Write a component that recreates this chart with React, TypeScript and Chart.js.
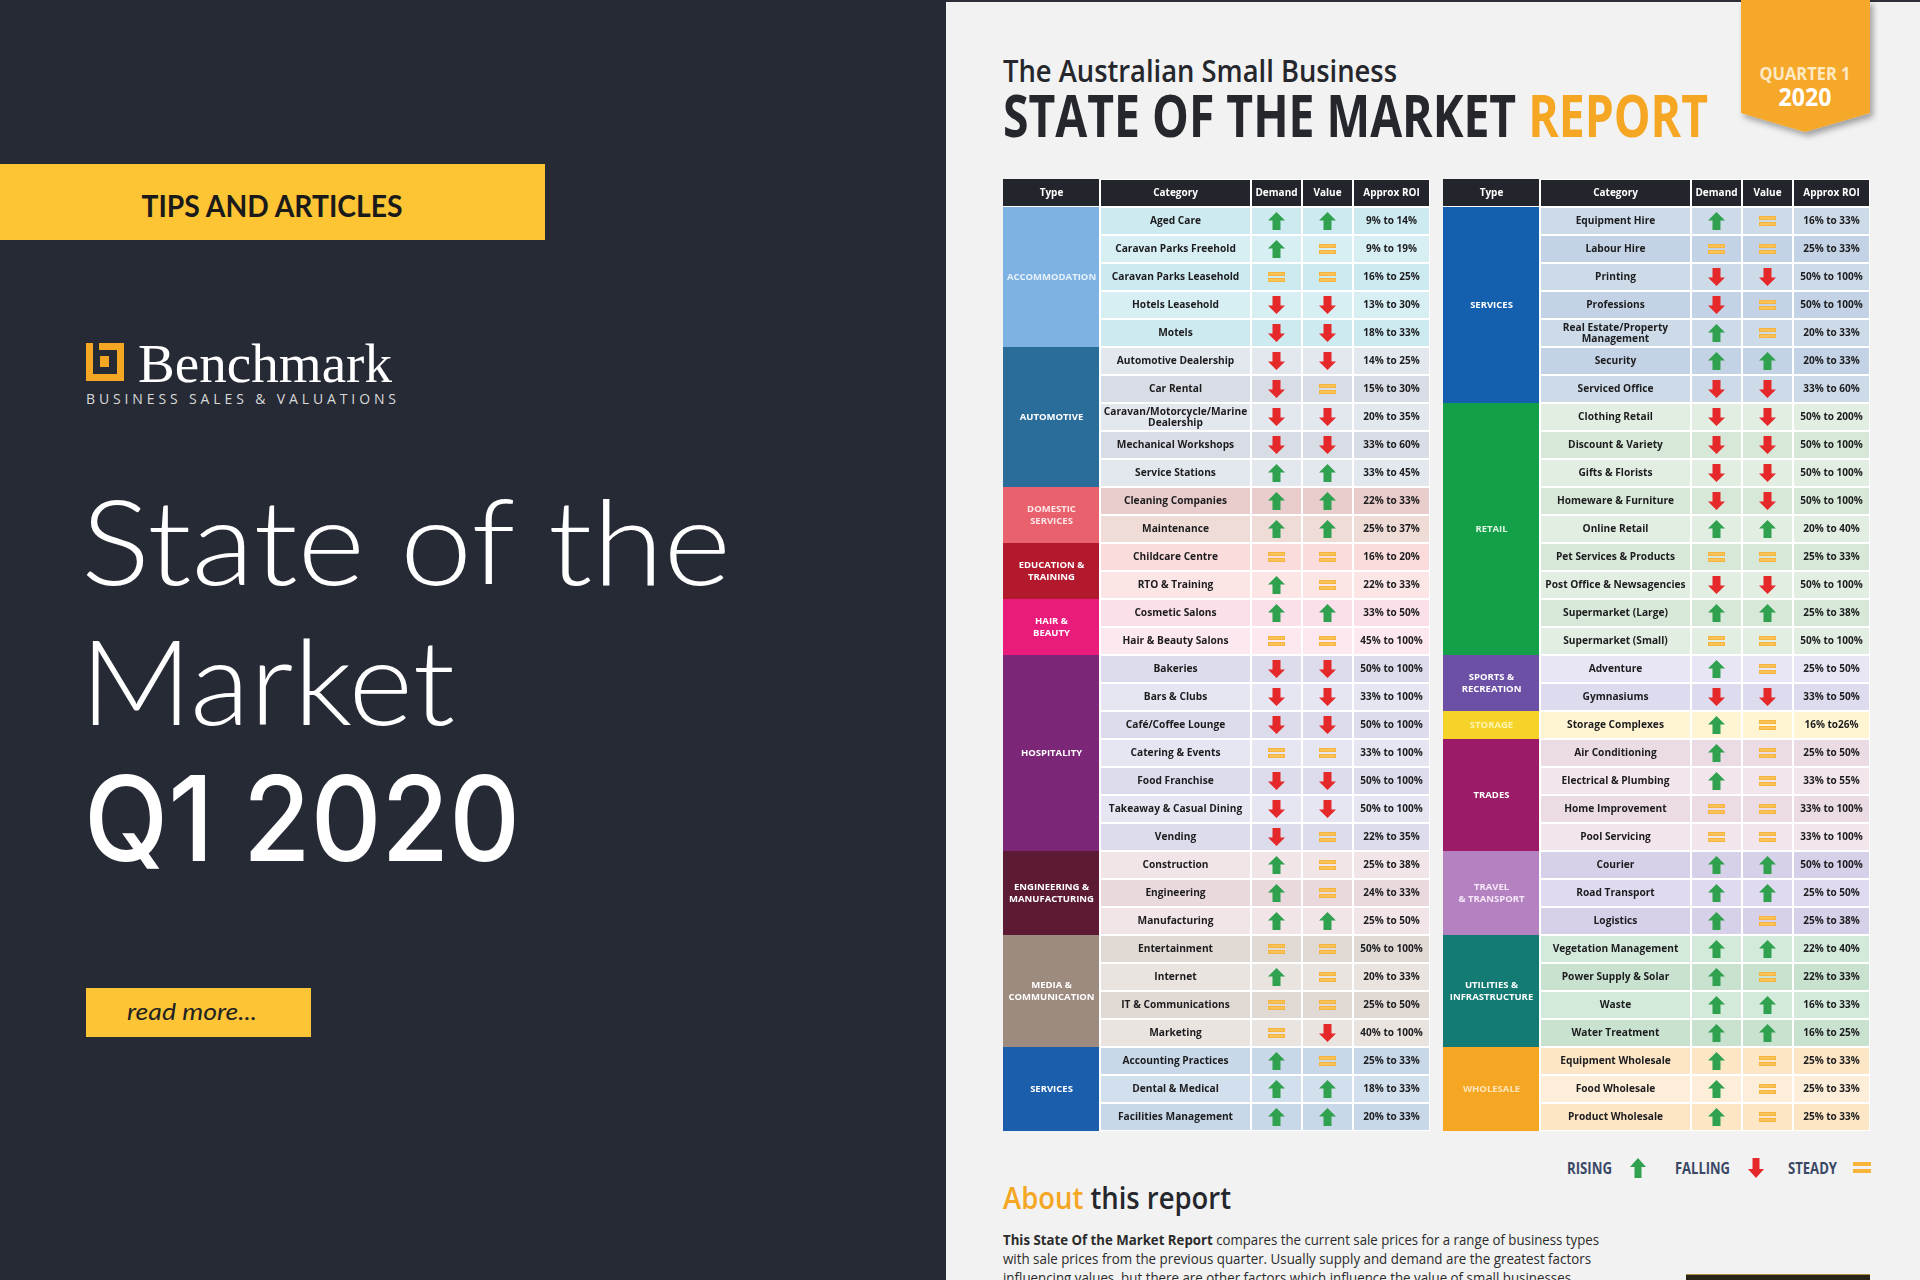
import React, { useEffect, useRef } from 'react';
import { Chart, registerables } from 'chart.js';

Chart.register(...registerables);

// ---------------- data ----------------
const columnHeaders = ['Type', 'Category', 'Demand', 'Value', 'Approx ROI'];

const leftTypeLabels = [
  'ACCOMMODATION', 'AUTOMOTIVE', 'DOMESTIC\nSERVICES', 'EDUCATION &\nTRAINING', 'HAIR &\nBEAUTY',
  'HOSPITALITY', 'ENGINEERING &\nMANUFACTURING', 'MEDIA &\nCOMMUNICATION', 'SERVICES',
];
const leftTypeSizes = [5, 5, 2, 2, 2, 7, 3, 4, 3];
const leftCategories = [
  'Aged Care', 'Caravan Parks Freehold', 'Caravan Parks Leasehold', 'Hotels Leasehold', 'Motels',
  'Automotive Dealership', 'Car Rental', 'Caravan/Motorcycle/Marine\nDealership', 'Mechanical Workshops', 'Service Stations',
  'Cleaning Companies', 'Maintenance',
  'Childcare Centre', 'RTO & Training',
  'Cosmetic Salons', 'Hair & Beauty Salons',
  'Bakeries', 'Bars & Clubs', 'Café/Coffee Lounge', 'Catering & Events', 'Food Franchise', 'Takeaway & Casual Dining', 'Vending',
  'Construction', 'Engineering', 'Manufacturing',
  'Entertainment', 'Internet', 'IT & Communications', 'Marketing',
  'Accounting Practices', 'Dental & Medical', 'Facilities Management',
];
const leftDemand = [
  'up', 'up', 'steady', 'down', 'down',
  'down', 'down', 'down', 'down', 'up',
  'up', 'up',
  'steady', 'up',
  'up', 'steady',
  'down', 'down', 'down', 'steady', 'down', 'down', 'down',
  'up', 'up', 'up',
  'steady', 'up', 'steady', 'steady',
  'up', 'up', 'up',
];
const leftValue = [
  'up', 'steady', 'steady', 'down', 'down',
  'down', 'steady', 'down', 'down', 'up',
  'up', 'up',
  'steady', 'steady',
  'up', 'steady',
  'down', 'down', 'down', 'steady', 'down', 'down', 'steady',
  'steady', 'steady', 'up',
  'steady', 'steady', 'steady', 'down',
  'steady', 'up', 'up',
];
const leftRoi = [
  '9% to 14%', '9% to 19%', '16% to 25%', '13% to 30%', '18% to 33%',
  '14% to 25%', '15% to 30%', '20% to 35%', '33% to 60%', '33% to 45%',
  '22% to 33%', '25% to 37%',
  '16% to 20%', '22% to 33%',
  '33% to 50%', '45% to 100%',
  '50% to 100%', '33% to 100%', '50% to 100%', '33% to 100%', '50% to 100%', '50% to 100%', '22% to 35%',
  '25% to 38%', '24% to 33%', '25% to 50%',
  '50% to 100%', '20% to 33%', '25% to 50%', '40% to 100%',
  '25% to 33%', '18% to 33%', '20% to 33%',
];

const rightTypeLabels = [
  'SERVICES', 'RETAIL', 'SPORTS &\nRECREATION', 'STORAGE', 'TRADES', 'TRAVEL\n& TRANSPORT',
  'UTILITIES &\nINFRASTRUCTURE', 'WHOLESALE',
];
const rightTypeSizes = [7, 9, 2, 1, 4, 3, 4, 3];
const rightCategories = [
  'Equipment Hire', 'Labour Hire', 'Printing', 'Professions', 'Real Estate/Property\nManagement', 'Security', 'Serviced Office',
  'Clothing Retail', 'Discount & Variety', 'Gifts & Florists', 'Homeware & Furniture', 'Online Retail',
  'Pet Services & Products', 'Post Office & Newsagencies', 'Supermarket (Large)', 'Supermarket (Small)',
  'Adventure', 'Gymnasiums',
  'Storage Complexes',
  'Air Conditioning', 'Electrical & Plumbing', 'Home Improvement', 'Pool Servicing',
  'Courier', 'Road Transport', 'Logistics',
  'Vegetation Management', 'Power Supply & Solar', 'Waste', 'Water Treatment',
  'Equipment Wholesale', 'Food Wholesale', 'Product Wholesale',
];
const rightDemand = [
  'up', 'steady', 'down', 'down', 'up', 'up', 'down',
  'down', 'down', 'down', 'down', 'up', 'steady', 'down', 'up', 'steady',
  'up', 'down',
  'up',
  'up', 'up', 'steady', 'steady',
  'up', 'up', 'up',
  'up', 'up', 'up', 'up',
  'up', 'up', 'up',
];
const rightValue = [
  'steady', 'steady', 'down', 'steady', 'steady', 'up', 'down',
  'down', 'down', 'down', 'down', 'up', 'steady', 'down', 'up', 'steady',
  'steady', 'down',
  'steady',
  'steady', 'steady', 'steady', 'steady',
  'up', 'up', 'steady',
  'up', 'steady', 'up', 'up',
  'steady', 'steady', 'steady',
];
const rightRoi = [
  '16% to 33%', '25% to 33%', '50% to 100%', '50% to 100%', '20% to 33%', '20% to 33%', '33% to 60%',
  '50% to 200%', '50% to 100%', '50% to 100%', '50% to 100%', '20% to 40%', '25% to 33%', '50% to 100%', '25% to 38%', '50% to 100%',
  '25% to 50%', '33% to 50%',
  '16% to26%',
  '25% to 50%', '33% to 55%', '33% to 100%', '33% to 100%',
  '50% to 100%', '25% to 50%', '25% to 38%',
  '22% to 40%', '22% to 33%', '16% to 33%', '16% to 25%',
  '25% to 33%', '25% to 33%', '25% to 33%',
];

const legendLabels = ['RISING', 'FALLING', 'STEADY'];

// ---------------- styles ----------------
const HEADER_FILL = '#22252b';
const COL_WIDTHS = [97, 151, 51, 51, 77];
const COL_STARTS = COL_WIDTHS.map((_, i) => COL_WIDTHS.slice(0, i).reduce((a, b) => a + b, 0));
const TOTAL_W = COL_WIDTHS.reduce((a, b) => a + b, 0);
const TABLE_H = 952;

const leftTypeFill = ['#7eb2e3', '#2b6d9a', '#e9616c', '#b3192d', '#e91b7b', '#7b2676', '#5c1a35', '#9e8b80', '#1b5eab'];
const leftTypeText = ['#e6f1fb', '#ffffff', '#fde6e8', '#ffffff', '#ffffff', '#ffffff', '#ffffff', '#ffffff', '#ffffff'];
const leftRowTints = [
  ['#cdeaf0', '#d7eff3'],
  ['#e3e7ee', '#d8dde5'],
  ['#e9cdcd', '#efdcd7'],
  ['#fadcdc', '#fce5e5'],
  ['#fbdfe9', '#fde8ef'],
  ['#dcdcec', '#e6e6f2'],
  ['#f2e5e8', '#e9d8dc'],
  ['#e0d9d4', '#e9e4e0'],
  ['#c8d8e9', '#d2dfec'],
];
const rightTypeFill = ['#1560ae', '#14a049', '#6c50a6', '#f5d328', '#9b1b69', '#b482c0', '#137b74', '#f5a724'];
const rightTypeText = ['#ffffff', '#dff5e5', '#ffffff', '#fff3b0', '#ffffff', '#f6e8f8', '#ffffff', '#fde4b8'];
const rightRowTints = [
  ['#cddbe9', '#c3d3e5'],
  ['#e2eee2', '#d7e8d8'],
  ['#e8e6f4', '#dddbee'],
  ['#fff5d3', '#fff5d3'],
  ['#ebdbe5', '#f2e5ec'],
  ['#d6d0e9', '#dfdaef'],
  ['#d3eadb', '#c8e2cf'],
  ['#fde6c5', '#fdeed9'],
];

class TRBL {
  top: number; right: number; bottom: number; left: number;
  constructor(t: number, r: number, b: number, l: number) {
    this.top = t; this.right = r; this.bottom = b; this.left = l;
  }
}

function makeArrow(kind: string): HTMLCanvasElement {
  const c = document.createElement('canvas');
  c.width = 17;
  c.height = 18;
  const g = c.getContext('2d')!;
  if (kind === 'up') {
    g.fillStyle = '#2fa14f';
    g.beginPath();
    g.moveTo(8.5, 0); g.lineTo(17, 8.5); g.lineTo(12.5, 8.5); g.lineTo(12.5, 18);
    g.lineTo(4.5, 18); g.lineTo(4.5, 8.5); g.lineTo(0, 8.5); g.closePath();
    g.fill();
  } else if (kind === 'down') {
    g.fillStyle = '#e5292a';
    g.beginPath();
    g.moveTo(8.5, 18); g.lineTo(17, 9.5); g.lineTo(12.5, 9.5); g.lineTo(12.5, 0);
    g.lineTo(4.5, 0); g.lineTo(4.5, 9.5); g.lineTo(0, 9.5); g.closePath();
    g.fill();
  } else {
    g.fillStyle = '#f6b43a';
    g.fillRect(0, 4, 17, 4);
    g.fillRect(0, 10, 17, 4);
    g.fillStyle = '#fbd27e';
    g.fillRect(1, 5.5, 15, 1);
    g.fillRect(1, 11.5, 15, 1);
  }
  return c;
}

type Half = {
  typeLabels: string[]; typeSizes: number[]; categories: string[];
  demand: string[]; value: string[]; roi: string[];
  typeFill: string[]; typeText: string[]; rowTints: string[][];
};

function drawLines(ctx: CanvasRenderingContext2D, text: string, x: number, y: number, lh: number) {
  const lines = text.split('\n');
  lines.forEach((ln, k) => {
    ctx.fillText(ln, x, y + (k - (lines.length - 1) / 2) * lh);
  });
}

function TableChart({ half, left, top }: { half: Half; left: number; top: number }) {
  const ref = useRef<HTMLCanvasElement>(null);
  useEffect(() => {
    const canvas = ref.current!;
    const imgs: Record<string, HTMLCanvasElement> = {
      up: makeArrow('up'), down: makeArrow('down'), steady: makeArrow('steady'),
    };
    const labels = ['header', ...half.categories];
    const rowGroup: number[] = [];
    const rowInGroup: number[] = [];
    half.typeSizes.forEach((s, g) => {
      for (let k = 0; k < s; k++) { rowGroup.push(g); rowInGroup.push(k); }
    });
    const rowBg = (i: number) => (i === 0 ? HEADER_FILL : half.rowTints[rowGroup[i - 1]][rowInGroup[i - 1] % 2]);
    const typeBg = (i: number) => (i === 0 ? HEADER_FILL : half.typeFill[rowGroup[i - 1]]);

    const barSets: any[] = COL_WIDTHS.map((w, c) => ({
      type: 'bar',
      label: columnHeaders[c],
      order: 10,
      data: labels.map(() => w),
      backgroundColor: labels.map((_, i) => (c === 0 ? typeBg(i) : rowBg(i))),
      borderColor: '#ffffff',
      borderWidth: labels.map((_, i) =>
        c === 0 ? new TRBL(0, 1, i === 0 ? 1 : 0, 0) : new TRBL(1, 1, 1, 1)),
      borderSkipped: false,
      inflateAmount: 0,
      barPercentage: 1,
      categoryPercentage: 1,
      stack: 'cells',
    }));
    const demandCx = COL_STARTS[2] + COL_WIDTHS[2] / 2;
    const valueCx = COL_STARTS[3] + COL_WIDTHS[3] / 2;
    const pointSets: any[] = [
      {
        type: 'scatter', label: 'Demand', xAxisID: 'x2', stack: 'pd', order: 0,
        data: half.demand.map((_, i) => ({ x: demandCx, y: labels[i + 1] })),
        pointStyle: half.demand.map((d) => imgs[d]), pointRadius: 3,
      },
      {
        type: 'scatter', label: 'Value', xAxisID: 'x2', stack: 'pv', order: 0,
        data: half.value.map((_, i) => ({ x: valueCx, y: labels[i + 1] })),
        pointStyle: half.value.map((d) => imgs[d]), pointRadius: 3,
      },
    ];

    const textPlugin = {
      id: 'tableText',
      afterDatasetsDraw(ch: any) {
        const ctx: CanvasRenderingContext2D = ch.ctx;
        const xs = ch.scales.x;
        const ys = ch.scales.y;
        const colCenter = (c: number) => xs.getPixelForValue(COL_STARTS[c] + COL_WIDTHS[c] / 2);
        ctx.save();
        ctx.textAlign = 'center';
        ctx.textBaseline = 'middle';
        ctx.fillStyle = '#ffffff';
        ctx.font = "700 10px 'Open Sans'";
        columnHeaders.forEach((h, c) => ctx.fillText(h, colCenter(c), ys.getPixelForValue(0) + 0.5));
        ctx.fillStyle = '#1c1c1e';
        ctx.font = "700 10.2px 'Open Sans'";
        half.categories.forEach((name, i) => drawLines(ctx, name, colCenter(1), ys.getPixelForValue(i + 1) + 0.5, 11.5));
        ctx.font = "700 10px 'Open Sans'";
        half.roi.forEach((r, i) => ctx.fillText(r, colCenter(4), ys.getPixelForValue(i + 1) + 0.5));
        ctx.font = "700 9.5px 'Open Sans'";
        let r = 1;
        half.typeLabels.forEach((t, g) => {
          const n = half.typeSizes[g];
          const yc = (ys.getPixelForValue(r) + ys.getPixelForValue(r + n - 1)) / 2;
          ctx.fillStyle = half.typeText[g];
          drawLines(ctx, t, colCenter(0), yc + 0.5, 11.5);
          r += n;
        });
        ctx.restore();
      },
    };

    const chart = new Chart(canvas, {
      type: 'bar',
      data: { labels, datasets: [...barSets, ...pointSets] },
      options: {
        indexAxis: 'y',
        animation: false,
        responsive: false,
        devicePixelRatio: 1,
        events: [],
        layout: { padding: 0, autoPadding: false },
        scales: {
          x: { type: 'linear', min: 0, max: TOTAL_W, stacked: true, display: false },
          x2: { type: 'linear', axis: 'x', min: 0, max: TOTAL_W, display: false },
          y: { type: 'category', stacked: true, display: false, offset: true },
        },
        plugins: { legend: { display: false }, tooltip: { enabled: false } },
      } as any,
      plugins: [textPlugin],
    });
    return () => chart.destroy();
  }, [half]);
  return (
    <canvas
      ref={ref}
      width={TOTAL_W}
      height={TABLE_H}
      style={{ position: 'absolute', left, top, width: TOTAL_W, height: TABLE_H }}
    />
  );
}

const leftHalf: Half = {
  typeLabels: leftTypeLabels, typeSizes: leftTypeSizes, categories: leftCategories,
  demand: leftDemand, value: leftValue, roi: leftRoi,
  typeFill: leftTypeFill, typeText: leftTypeText, rowTints: leftRowTints,
};
const rightHalf: Half = {
  typeLabels: rightTypeLabels, typeSizes: rightTypeSizes, categories: rightCategories,
  demand: rightDemand, value: rightValue, roi: rightRoi,
  typeFill: rightTypeFill, typeText: rightTypeText, rowTints: rightRowTints,
};

const DARK = '#25272c';
const ORANGE = '#f5a623';

export default function App() {
  return (
    <div style={{ position: 'absolute', left: 0, top: 0, width: 1920, height: 1280, overflow: 'hidden' }}>
      <svg width={1920} height={1280} style={{ position: 'absolute', left: 0, top: 0 }}>
        <defs>
          <filter id="sh" x="-30%" y="-30%" width="160%" height="160%">
            <feDropShadow dx="3" dy="4" stdDeviation="3" floodColor="#000" floodOpacity="0.35" />
          </filter>
        </defs>
        {/* left panel */}
        <rect x={0} y={0} width={946} height={1280} fill="#262a35" />
        <rect x={0} y={164} width={545} height={76} fill="#fdc434" />
        <text x={272} y={217} textAnchor="middle" fontFamily="Lato" fontWeight={700} fontSize={30}
          fill="#1a1a1a" textLength={261} lengthAdjust="spacingAndGlyphs">TIPS AND ARTICLES</text>
        <g fill="#f5a623">
          <rect x={86} y={343} width={7} height={38} />
          <rect x={86} y={374} width={38} height={7} />
          <rect x={117} y={343} width={7} height={38} />
          <rect x={99} y={343} width={25} height={7} />
          <rect x={100} y={356} width={9} height={11} />
        </g>
        <text x={138} y={382} fontFamily="'Liberation Serif'" fontSize={55} fill="#ffffff"
          textLength={254} lengthAdjust="spacingAndGlyphs">Benchmark</text>
        <text x={86} y={404} fontFamily="'Open Sans'" fontSize={14} fill="#d9d9d9"
          textLength={310} lengthAdjust="spacing">BUSINESS SALES &amp; VALUATIONS</text>
        <text x={81} y={585} fontFamily="Lato" fontWeight={300} fontSize={118} fill="#ffffff"
          textLength={650} lengthAdjust="spacingAndGlyphs">State of the</text>
        <text x={80} y={725} fontFamily="Lato" fontWeight={300} fontSize={118} fill="#ffffff"
          textLength={375} lengthAdjust="spacingAndGlyphs">Market</text>
        <text x={84} y={861} fontFamily="Inter" fontWeight={500} fontSize={118} fill="#ffffff"
          textLength={436} lengthAdjust="spacingAndGlyphs">Q1 2020</text>
        <rect x={86} y={988} width={225} height={49} fill="#fdc536" />
        <text x={127} y={1020} fontFamily="Lato" fontStyle="italic" fontSize={23} fill="#222222"
          textLength={130} lengthAdjust="spacingAndGlyphs">read more...</text>

        {/* right panel */}
        <rect x={946} y={0} width={974} height={1280} fill="#f2f2f2" />
        <rect x={946} y={0} width={974} height={2} fill="#2c2f38" />
        <text x={1003} y={82} fontFamily="'Open Sans'" fontWeight={600} fontSize={30} fill={DARK}
          textLength={394} lengthAdjust="spacingAndGlyphs">The Australian Small Business</text>
        <text x={1003} y={137} fontFamily="'Open Sans'" fontWeight={700} fontSize={59}
          textLength={705} lengthAdjust="spacingAndGlyphs">
          <tspan fill={DARK}>STATE OF THE MARKET </tspan>
          <tspan fill={ORANGE}>REPORT</tspan>
        </text>
        <polygon points="1741,0 1870,0 1870,113 1805,132 1741,113" fill="#f6a82b" filter="url(#sh)" />
        <text x={1805} y={80} textAnchor="middle" fontFamily="'Open Sans'" fontWeight={700} fontSize={17}
          fill="#fde9c4" textLength={91} lengthAdjust="spacingAndGlyphs">QUARTER 1</text>
        <text x={1805} y={106} textAnchor="middle" fontFamily="'Open Sans'" fontWeight={700} fontSize={25}
          fill="#ffffff" textLength={53} lengthAdjust="spacingAndGlyphs">2020</text>

        {/* legend */}
        <text x={1567} y={1174} fontFamily="'Open Sans'" fontWeight={700} fontSize={16} fill="#3b4865"
          textLength={45} lengthAdjust="spacingAndGlyphs">{legendLabels[0]}</text>
        <path d="M1638,1158 L1646,1167 L1641.5,1167 L1641.5,1178 L1634.5,1178 L1634.5,1167 L1630,1167 Z" fill="#2fa14f" />
        <text x={1675} y={1174} fontFamily="'Open Sans'" fontWeight={700} fontSize={16} fill="#3b4865"
          textLength={55} lengthAdjust="spacingAndGlyphs">{legendLabels[1]}</text>
        <path d="M1756,1178 L1764,1169 L1759.5,1169 L1759.5,1158 L1752.5,1158 L1752.5,1169 L1748,1169 Z" fill="#e5292a" />
        <text x={1788} y={1174} fontFamily="'Open Sans'" fontWeight={700} fontSize={16} fill="#3b4865"
          textLength={49} lengthAdjust="spacingAndGlyphs">{legendLabels[2]}</text>
        <rect x={1853} y={1162} width={18} height={4} fill="#f6b43a" />
        <rect x={1853} y={1169} width={18} height={4} fill="#f6b43a" />

        {/* about */}
        <text x={1003} y={1209} fontFamily="'Open Sans'" fontWeight={600} fontSize={30}
          textLength={228} lengthAdjust="spacingAndGlyphs">
          <tspan fill={ORANGE}>About</tspan>
          <tspan fill={DARK}> this report</tspan>
        </text>
        <text x={1003} y={1245} fontFamily="'Open Sans'" fontSize={15} fill="#2b2b2b"
          textLength={596} lengthAdjust="spacingAndGlyphs">
          <tspan fontWeight={700}>This State Of the Market Report</tspan>
          <tspan> compares the current sale prices for a range of business types</tspan>
        </text>
        <text x={1003} y={1264} fontFamily="'Open Sans'" fontSize={15} fill="#2b2b2b"
          textLength={588} lengthAdjust="spacingAndGlyphs">with sale prices from the previous quarter.  Usually supply and demand are the greatest factors</text>
        <text x={1003} y={1283} fontFamily="'Open Sans'" fontSize={15} fill="#2b2b2b"
          textLength={568} lengthAdjust="spacingAndGlyphs">influencing values, but there are other factors which influence the value of small businesses</text>
        <rect x={1686} y={1274} width={184} height={6} fill="#2a2418" />
        <rect x={1686} y={1274} width={184} height={1} fill="#b08d3a" />
      </svg>
      <TableChart half={leftHalf} left={1003} top={179} />
      <TableChart half={rightHalf} left={1443} top={179} />
    </div>
  );
}
